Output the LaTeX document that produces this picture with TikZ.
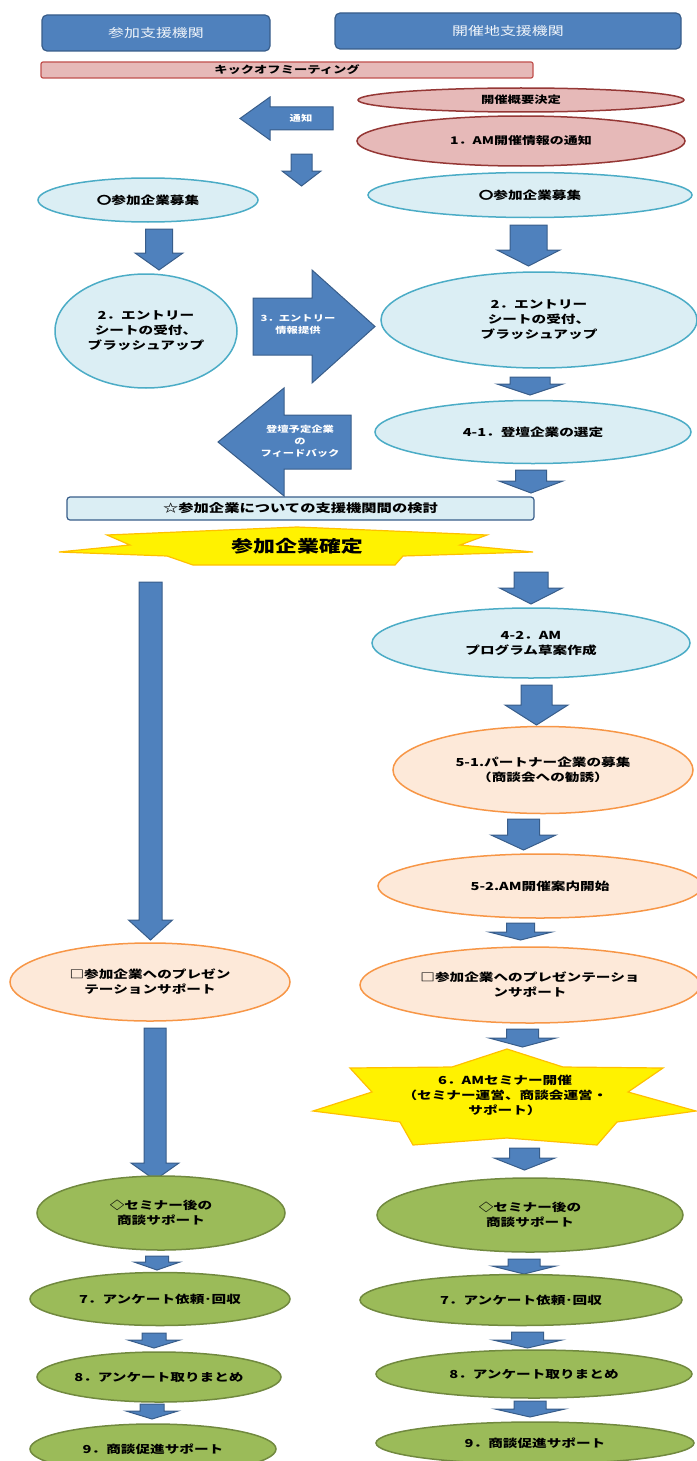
\documentclass[tikz,border=0pt]{standalone}
\usepackage{fontspec}
\setmainfont{Noto Sans CJK JP}[FakeStretch=1.33]
\usepackage{tikz}
\usetikzlibrary{shapes.geometric}

\definecolor{barblue}{HTML}{4F81BD}
\definecolor{bardark}{HTML}{385D8A}
\definecolor{pinkfill}{HTML}{E6B9B8}
\definecolor{pinkline}{HTML}{C0504D}
\definecolor{redline}{HTML}{953735}
\definecolor{skyfill}{HTML}{DBEEF4}
\definecolor{skyline}{HTML}{4BACC6}
\definecolor{peachfill}{HTML}{FDE9D9}
\definecolor{peachline}{HTML}{F79646}
\definecolor{olivefill}{HTML}{9BBB59}
\definecolor{oliveline}{HTML}{71893F}
\definecolor{starline}{HTML}{FFC000}

% block arrow pointing down: x, top y, tip y, shaft half width, head half width, head length
\newcommand{\downarr}[6]{%
  \draw[barrow] (#1-#4,#2) -- (#1+#4,#2) -- (#1+#4,#3-#6) -- (#1+#5,#3-#6)
    -- (#1,#3) -- (#1-#5,#3-#6) -- (#1-#4,#3-#6) -- cycle;}
% block arrow left/right: tip x, mid y, head base x, tail x, shaft half width, head half width
\newcommand{\sidearr}[6]{%
  \draw[barrow] (#1,#2) -- (#3,#2-#6) -- (#3,#2-#5) -- (#4,#2-#5) -- (#4,#2+#5)
    -- (#3,#2+#5) -- (#3,#2+#6) -- cycle;}

\begin{document}
\begin{tikzpicture}[x=1pt,y=-1pt,
    font=\fontsize{11}{15}\selectfont\bfseries,
    barrow/.style={fill=barblue,draw=bardark,line width=1pt,line join=miter},
    hdr/.style={rectangle,rounded corners=5pt,fill=barblue,draw=bardark,line width=1.2pt,
                text=white!92!barblue,font=\fontsize{12}{14}\selectfont},
    kick/.style={rectangle,rounded corners=2pt,fill=pinkfill,draw=pinkline,line width=1.2pt,
                 inner sep=0pt,font=\fontsize{10}{12}\selectfont\bfseries},
    ell/.style={ellipse,inner sep=0pt,align=center,line width=1.5pt},
    pinkell/.style={ell,fill=pinkfill,draw=redline},
    skyell/.style={ell,fill=skyfill,draw=skyline},
    peachell/.style={ell,fill=peachfill,draw=peachline},
    oliveell/.style={ell,fill=olivefill,draw=oliveline},
    boom/.style={fill=yellow,draw=starline,line width=1.2pt,line join=miter},
    arrtext/.style={text=white,align=center,font=\fontsize{8.5}{12}\selectfont\bfseries}]

\useasboundingbox (0,0) rectangle (696,1461);

% headers
\node[hdr, minimum width=228, minimum height=36] (hL) at (156,33) {参加支援機関};
\node[hdr, minimum width=346, minimum height=36] (hR) at (508,31) {開催地支援機関};
\node[kick, minimum width=492, minimum height=16] (kick) at (287,70) {キックオフミーティング};

% top of the flow
\node[pinkell, minimum width=326, minimum height=24, font=\fontsize{10}{12}\selectfont\bfseries] (gaiyo) at (521,100) {開催概要決定};
\node[pinkell, minimum width=328, minimum height=50, font=\fontsize{10.5}{14}\selectfont\bfseries] (tsuchi) at (521,141) {1．AM開催情報の通知};
\sidearr{240}{118.5}{270}{333}{11.5}{21.5}
\node[arrtext] (tsuchiA) at (301,118.5) {通知};
\downarr{301.5}{154}{186}{10.5}{19.5}{15}

\node[skyell, minimum width=220, minimum height=44] (boshuL) at (148,200) {〇参加企業募集};
\node[skyell, minimum width=324, minimum height=45] (boshuR) at (530,195) {〇参加企業募集};
\downarr{159}{229}{270}{13.5}{24}{17}
\downarr{528.5}{225}{266}{18.5}{31.5}{16}

\node[skyell, minimum width=182, minimum height=114] (entryL) at (146,331) {2．エントリー\\シートの受付、\\ブラッシュアップ};
\node[skyell, minimum width=316, minimum height=96] (entryR) at (539,320) {2．エントリー\\シートの受付、\\ブラッシュアップ};
\sidearr{375}{326.5}{312}{253}{28.5}{56.5}
\node[arrtext] (teikyo) at (298,325) {3．エントリー\\情報提供};
\downarr{530}{377}{395}{20}{33}{11}

\node[skyell, minimum width=316, minimum height=63] (sentei) at (533,432) {4-1．登壇企業の選定};
\sidearr{218}{442}{284}{351}{27}{54}
\node[arrtext] (feedback) at (300,441) {登壇予定企業\\の\\フィードバック};
\downarr{531}{470}{493}{15.5}{32}{12}

\node[rectangle, rounded corners=3pt, fill=skyfill, draw=bardark, line width=1.2pt,
      minimum width=467, minimum height=23, inner sep=0pt,
      font=\fontsize{11.5}{13}\selectfont\bfseries] (kento) at (300.5,508.5) {☆参加企業についての支援機関間の検討};

% banner
\draw[boom] (59,552) -- (130,545) -- (107,535) -- (297,527) -- (487,535) -- (460,545)
  -- (533,552) -- (403,556) -- (395,565) -- (193,565) -- (167,556) -- cycle;
\node[font=\fontsize{16.5}{18}\selectfont\bfseries] (kakutei) at (297,546) {参加企業確定};

\downarr{150.5}{582}{940}{11.5}{22}{20}
\downarr{531}{572}{604}{17}{31.5}{16}

\node[skyell, minimum width=318, minimum height=70] (program) at (531,643) {4-2．AM\\プログラム草案作成};
\downarr{536.5}{685}{725}{15.5}{31.5}{20}
\node[peachell, minimum width=300, minimum height=87] (partner) at (543,770) {5-1.パートナー企業の募集\\（商談会への勧誘）};
\downarr{523.5}{819}{850}{16}{32.5}{15}
\node[peachell, minimum width=324, minimum height=64] (annai) at (540,886) {5-2.AM開催案内開始};
\downarr{520.5}{923}{940}{14}{31.5}{8}

\node[peachell, minimum width=280, minimum height=78] (presL) at (150,982) {□参加企業へのプレゼン\\テーションサポート};
\node[peachell, minimum width=340, minimum height=76] (presR) at (530,985) {□参加企業へのプレゼンテーショ\\ンサポート};
\downarr{155}{1028}{1180}{11}{24}{17}
\downarr{522.5}{1029}{1047}{16}{33.5}{9}

% seminar star
\draw[boom] (507,1049) -- (563,1067) -- (663,1068) -- (628,1092) -- (696,1111) -- (617,1122)
  -- (597,1145) -- (507,1138) -- (413,1145) -- (400,1122) -- (313,1111) -- (372,1092)
  -- (350,1068) -- (452,1067) -- cycle;
\node[align=center] (seminar) at (505,1095) {6．AMセミナー開催\\（セミナー運営、商談会運営・\\サポート）};
\downarr{524.5}{1148}{1170}{15}{30.5}{12}

% follow-up
\node[oliveell, minimum width=248, minimum height=74] (shodanL) at (161,1213) {◇セミナー後の\\商談サポート};
\node[oliveell, minimum width=306, minimum height=74] (shodanR) at (530,1215) {◇セミナー後の\\商談サポート};
\downarr{157}{1256}{1270}{11.5}{23}{8}
\downarr{524}{1259}{1274}{16}{32}{8}
\node[oliveell, minimum width=260, minimum height=53] (q7L) at (160,1299) {7．アンケート依頼･回収};
\node[oliveell, minimum width=322, minimum height=51] (q7R) at (521,1300) {7．アンケート依頼･回収};
\downarr{154}{1333}{1348}{12}{26}{8}
\downarr{527.5}{1332}{1348}{16}{34.5}{8}
\node[oliveell, minimum width=244, minimum height=50] (q8L) at (159,1377) {8．アンケート取りまとめ};
\node[oliveell, minimum width=316, minimum height=48] (q8R) at (534,1374) {8．アンケート取りまとめ};
\downarr{152}{1404}{1419}{12}{26}{8}
\downarr{530}{1401}{1417}{16}{35}{8}
\node[oliveell, minimum width=246, minimum height=50] (q9L) at (153,1449) {9．商談促進サポート};
\node[oliveell, minimum width=318, minimum height=42] (q9R) at (535,1443) {9．商談促進サポート};

\end{tikzpicture}
\end{document}
